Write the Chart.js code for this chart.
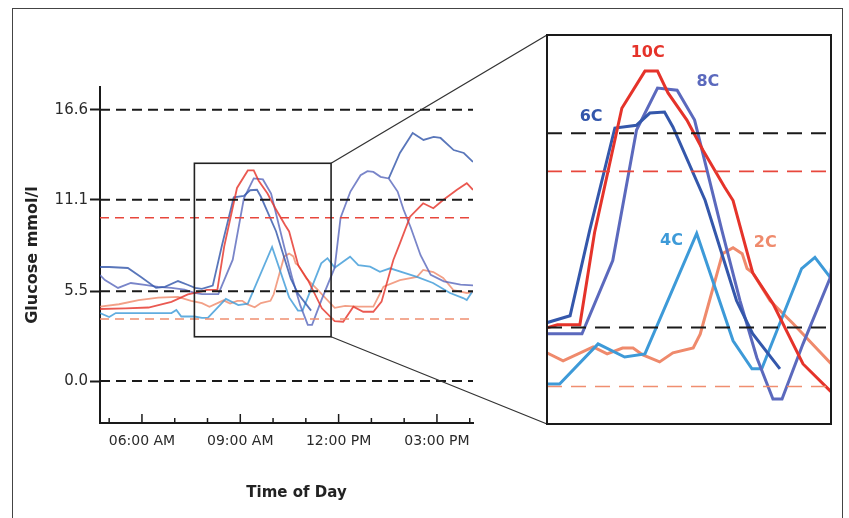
<!DOCTYPE html>
<html><head><meta charset="utf-8">
<script src="https://cdn.jsdelivr.net/npm/chart.js@4.4.1/dist/chart.umd.min.js"></script>
<style>
html,body{margin:0;padding:0;background:#fff;}
#wrap{position:relative;width:849px;height:518px;overflow:hidden;background:#fff;}
#frame{position:absolute;left:12px;top:8px;width:831px;height:520px;border:1.5px solid #444;box-sizing:border-box;}
#main{position:absolute;left:0;top:0;width:849px;height:518px;}
#inset{position:absolute;left:545px;top:33px;width:288px;height:393px;}
</style></head><body>
<div id="wrap">
<div id="frame"></div>
<canvas id="main" width="849" height="518"></canvas>
<canvas id="inset" width="288" height="393"></canvas>
</div>
<script>
// ---------- data (time of day in hours, glucose in mmol/l) ----------
const seriesNames = ['10C', '6C', '8C', '4C', '2C'];

const t10C = [4.72, 5.5, 6.2, 6.9, 7.4, 7.83, 7.98, 8.30, 8.51, 8.90, 9.23, 9.41, 9.56, 9.83, 10.06, 10.37, 10.49, 10.77, 11.06, 11.49, 11.88, 12.14, 12.45, 12.75, 13.06, 13.31, 13.67, 13.87, 14.18, 14.58, 14.89, 15.19, 15.60, 15.91, 16.10];
const v10C = [4.41, 4.45, 4.50, 4.85, 5.30, 5.49, 5.58, 5.58, 8.24, 11.82, 12.89, 12.89, 12.26, 11.48, 10.61, 9.54, 9.16, 7.08, 6.19, 4.45, 3.67, 3.63, 4.55, 4.24, 4.24, 4.86, 7.41, 8.43, 10.06, 10.88, 10.58, 11.08, 11.70, 12.11, 11.70];

const t2C = [4.72, 5.3, 5.9, 6.5, 7.1, 7.5, 7.83, 8.06, 8.49, 8.69, 8.91, 9.06, 9.20, 9.44, 9.63, 9.92, 10.02, 10.34, 10.49, 10.62, 10.69, 10.77, 11.02, 11.35, 11.88, 12.2, 12.6, 13.06, 13.37, 13.87, 14.39, 14.58, 14.89, 15.19, 15.50, 15.91, 16.10];
const v2C = [4.55, 4.70, 4.95, 5.10, 5.15, 4.90, 4.77, 4.54, 4.94, 4.74, 4.91, 4.91, 4.71, 4.51, 4.77, 4.91, 5.31, 7.63, 7.80, 7.63, 7.20, 7.08, 6.27, 5.61, 4.48, 4.60, 4.55, 4.55, 5.78, 6.18, 6.37, 6.80, 6.67, 6.31, 5.57, 5.39, 5.45];

const t4C = [4.72, 5.0, 5.2, 6.9, 7.05, 7.2, 7.6, 7.83, 8.01, 8.56, 8.94, 9.23, 9.97, 10.49, 10.76, 10.90, 11.47, 11.66, 11.88, 12.35, 12.60, 12.96, 13.26, 13.57, 14.03, 14.39, 14.88, 15.40, 15.80, 15.91, 16.07];
const v4C = [4.16, 3.92, 4.16, 4.16, 4.35, 3.95, 3.95, 3.87, 3.87, 5.03, 4.65, 4.74, 8.21, 5.12, 4.31, 4.31, 7.20, 7.52, 6.94, 7.61, 7.10, 7.00, 6.69, 6.90, 6.60, 6.37, 6.00, 5.39, 5.08, 4.96, 5.45];

const t6C = [4.72, 5.0, 5.57, 5.97, 6.43, 6.7, 7.1, 7.41, 7.62, 7.83, 8.16, 8.44, 8.80, 9.11, 9.30, 9.51, 9.63, 10.09, 10.54, 10.77, 11.16, 12.30, 13.53, 13.87, 14.26, 14.59, 14.90, 15.11, 15.51, 15.82, 16.10];
const v6C = [6.98, 6.98, 6.92, 6.37, 5.70, 5.76, 6.12, 5.88, 5.70, 5.64, 5.84, 8.30, 11.25, 11.33, 11.68, 11.71, 11.28, 9.17, 6.27, 5.32, 4.31, null, 12.40, 13.96, 15.18, 14.76, 14.94, 14.88, 14.14, 13.96, 13.41];

const t8C = [4.72, 4.87, 5.27, 5.66, 6.09, 6.49, 6.9, 7.3, 7.6, 7.83, 8.33, 8.77, 9.11, 9.41, 9.69, 9.94, 10.33, 10.59, 10.83, 11.06, 11.19, 11.49, 11.88, 12.06, 12.36, 12.67, 12.88, 13.06, 13.28, 13.53, 13.80, 13.98, 14.20, 14.50, 14.81, 15.21, 15.72, 16.10];
const v8C = [6.49, 6.18, 5.70, 6.00, 5.88, 5.76, 5.70, 5.60, 5.40, 5.32, 5.32, 7.43, 11.19, 12.40, 12.34, 11.48, 8.30, 6.27, 4.63, 3.44, 3.44, 5.03, 6.94, 10.00, 11.60, 12.60, 12.85, 12.80, 12.50, 12.40, 11.60, 10.50, 9.40, 7.70, 6.50, 6.10, 5.90, 5.85];

const yTickValues = [0.0, 5.5, 11.1, 16.6];
const highLimit = 10.0;
const lowLimit = 3.8;
const xTickHours = [5, 6, 7, 8, 9, 10, 11, 12, 13, 14, 15, 16];
const xLabelHours = [6, 9, 12, 15];
const xLabelTexts = ['06:00 AM', '09:00 AM', '12:00 PM', '03:00 PM'];
const xTitle = 'Time of Day';
const yTitle = 'Glucose mmol/l';

// axis ranges (data units)
const mainRange = { xMin: 4.72, xMax: 16.10, yMin: -2.57, yMax: 18.0 };
const insetRange = { xMin: 7.83, xMax: 11.89, yMin: 2.72, yMax: 13.93 };
const zoomBox = { x0: 7.60, x1: 11.77, y0: 2.71, y1: 13.33 };

// inset series labels anchored in data units
const labelNames = ['10C', '8C', '6C', '4C', '2C'];
const labelTimes = [9.27, 10.13, 8.46, 9.61, 10.95];
const labelValues = [13.43, 12.57, 11.56, 7.99, 7.93];

// ---------- styles ----------
const seriesColor = { '10C': '#e5332a', '6C': '#3457ab', '8C': '#5b69bd', '4C': '#3d9ad8', '2C': '#ef8a6c' };
const seriesData = {
  '10C': [t10C, v10C], '6C': [t6C, v6C], '8C': [t8C, v8C], '4C': [t4C, v4C], '2C': [t2C, v2C]
};
function pts(name) {
  const [t, v] = seriesData[name];
  return t.map((x, i) => ({ x: x, y: v[i] }));
}
function refLine(v, range, color, dash, width) {
  return {
    data: [{ x: range.xMin, y: v }, { x: range.xMax, y: v }],
    borderColor: color, borderDash: dash, borderWidth: width,
    pointRadius: 0, fill: false
  };
}

// ---------- inset chart ----------
const insetDatasets = [];
insetDatasets.push(refLine(yTickValues[2], insetRange, '#1a1a1a', [15, 9], 2));
insetDatasets.push(refLine(yTickValues[1], insetRange, '#1a1a1a', [15, 9], 2));
insetDatasets.push(refLine(highLimit, insetRange, '#e8473c', [15, 9], 1.6));
insetDatasets.push(refLine(lowLimit, insetRange, '#f08e70', [15, 9], 1.6));
seriesNames.forEach(n => insetDatasets.push({
  label: n, data: pts(n), borderColor: seriesColor[n], borderWidth: 3,
  pointRadius: 0, spanGaps: false, fill: false
}));
insetDatasets.forEach(d => d.clip = 0);

const insetDecor = {
  id: 'insetDecor',
  afterDatasetsDraw(chart) {
    const { ctx, chartArea: a, scales: { x, y } } = chart;
    ctx.save();
    ctx.font = 'bold 16px "DejaVu Sans"';
    ctx.textAlign = 'center';
    ctx.textBaseline = 'middle';
    labelNames.forEach((n, i) => {
      ctx.fillStyle = seriesColor[n];
      ctx.fillText(n, x.getPixelForValue(labelTimes[i]), y.getPixelForValue(labelValues[i]));
    });
    ctx.strokeStyle = '#1a1a1a';
    ctx.lineWidth = 2;
    ctx.strokeRect(a.left, a.top, a.right - a.left, a.bottom - a.top);
    ctx.restore();
  }
};

const insetChart = new Chart(document.getElementById('inset'), {
  type: 'line',
  data: { datasets: insetDatasets },
  options: {
    responsive: false, animation: false,
    layout: { padding: 2 },
    plugins: { legend: { display: false }, tooltip: { enabled: false } },
    elements: { line: { tension: 0 }, point: { radius: 0 } },
    scales: {
      x: { type: 'linear', display: false, min: insetRange.xMin, max: insetRange.xMax },
      y: { type: 'linear', display: false, min: insetRange.yMin, max: insetRange.yMax }
    }
  },
  plugins: [insetDecor]
});

// ---------- main chart ----------
const mainDatasets = [];
yTickValues.forEach(v => mainDatasets.push(refLine(v, mainRange, '#1a1a1a', [10, 6], 2)));
mainDatasets.push(refLine(highLimit, mainRange, '#e8473c', [9, 6], 1.6));
mainDatasets.push(refLine(lowLimit, mainRange, '#f08e70', [9, 6], 1.6));
seriesNames.forEach(n => mainDatasets.push({
  label: n, data: pts(n), borderColor: seriesColor[n] + 'd0', borderWidth: 1.8,
  pointRadius: 0, spanGaps: false, fill: false
}));

const mainDecor = {
  id: 'mainDecor',
  afterDraw(chart) {
    const { ctx, scales: { x, y } } = chart;
    ctx.save();
    // inward hour ticks on the time axis
    ctx.strokeStyle = '#1a1a1a';
    ctx.lineWidth = 1.5;
    x.ticks.forEach(t => {
      const px = x.getPixelForValue(t.value);
      const len = xLabelHours.includes(t.value) ? 9 : 5;
      ctx.beginPath();
      ctx.moveTo(px, x.top);
      ctx.lineTo(px, x.top - len);
      ctx.stroke();
    });
    // x-axis title (slightly right of the axis centre, as in the original)
    ctx.fillStyle = '#222';
    ctx.font = 'bold 15px "DejaVu Sans"';
    ctx.textAlign = 'center';
    ctx.textBaseline = 'middle';
    ctx.fillText(xTitle, (x.left + x.right) / 2 + 10, x.bottom - 17);
    // zoom rectangle
    const bx0 = x.getPixelForValue(zoomBox.x0), bx1 = x.getPixelForValue(zoomBox.x1);
    const by0 = y.getPixelForValue(zoomBox.y0), by1 = y.getPixelForValue(zoomBox.y1);
    ctx.strokeStyle = '#222';
    ctx.lineWidth = 1.6;
    ctx.strokeRect(bx0, by1, bx1 - bx0, by0 - by1);
    // connectors to the inset
    const ic = document.getElementById('inset');
    const mc = chart.canvas;
    const ia = insetChart.chartArea;
    const ix = ic.offsetLeft - mc.offsetLeft + ia.left;
    const iyTop = ic.offsetTop - mc.offsetTop + ia.top;
    const iyBot = ic.offsetTop - mc.offsetTop + ia.bottom;
    ctx.strokeStyle = '#333';
    ctx.lineWidth = 1.3;
    ctx.beginPath();
    ctx.moveTo(bx1, by1); ctx.lineTo(ix, iyTop);
    ctx.moveTo(bx1, by0); ctx.lineTo(ix, iyBot);
    ctx.stroke();
    ctx.restore();
  }
};

new Chart(document.getElementById('main'), {
  type: 'line',
  data: { datasets: mainDatasets },
  options: {
    responsive: false, animation: false,
    layout: { padding: { left: 14, top: 87, right: 376, bottom: 8 } },
    plugins: { legend: { display: false }, tooltip: { enabled: false } },
    elements: { line: { tension: 0 }, point: { radius: 0 } },
    scales: {
      x: {
        type: 'linear', min: mainRange.xMin, max: mainRange.xMax,
        afterFit(s) { s.height = 87; },
        afterBuildTicks(s) { s.ticks = xTickHours.map(v => ({ value: v })); },
        grid: { display: true, drawOnChartArea: false, drawTicks: false },
        border: { display: true, color: '#1a1a1a', width: 2 },
        ticks: {
          autoSkip: false, maxRotation: 0, minRotation: 0, padding: 10, color: '#2a2a2a',
          font: { family: 'DejaVu Sans', size: 14 },
          callback: (v) => { const i = xLabelHours.indexOf(v); return i >= 0 ? xLabelTexts[i] : ''; }
        },
        title: { display: false }
      },
      y: {
        type: 'linear', min: mainRange.yMin, max: mainRange.yMax,
        afterFit(s) { s.width = 86; },
        afterBuildTicks(s) { s.ticks = yTickValues.map(v => ({ value: v })); },
        grid: { display: true, drawOnChartArea: false, drawTicks: true, tickLength: 10, tickColor: '#1a1a1a', tickWidth: 2 },
        border: { display: true, color: '#1a1a1a', width: 2 },
        ticks: {
          padding: 2, color: '#2a2a2a',
          font: { family: 'DejaVu Sans', size: 15 },
          callback: (v) => Number(v).toFixed(1)
        },
        title: {
          display: true, text: yTitle, color: '#222',
          font: { family: 'DejaVu Sans', size: 16, weight: 'bold' },
          padding: { top: 9, bottom: 0 }
        }
      }
    }
  },
  plugins: [mainDecor]
});
</script>
</body></html>
